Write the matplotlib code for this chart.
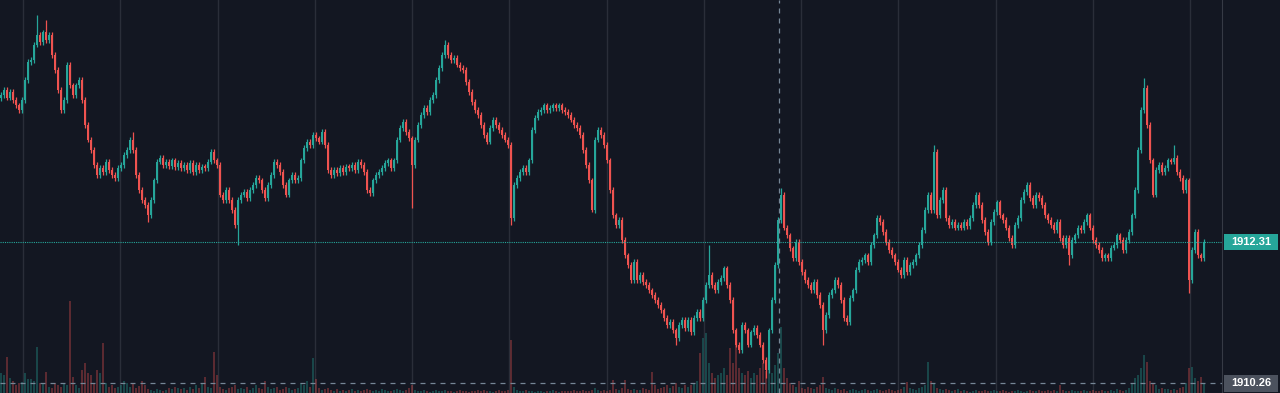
import numpy as np
import matplotlib.pyplot as plt
from matplotlib.patches import Rectangle

# close prices, one per candle (left to right)
closes = [
    1914.45, 1914.52, 1914.41, 1914.49, 1914.38, 1914.30, 1914.23, 1914.38, 1914.67, 1914.93,
    1914.96, 1915.18, 1915.32, 1915.22, 1915.36, 1915.25, 1915.32, 1915.03, 1914.81, 1914.52,
    1914.23, 1914.38, 1914.89, 1914.59, 1914.45, 1914.59, 1914.67, 1914.38, 1914.01, 1913.80,
    1913.65, 1913.43, 1913.29, 1913.39, 1913.33, 1913.48, 1913.36, 1913.29, 1913.24, 1913.39,
    1913.43, 1913.58, 1913.65, 1913.80, 1913.65, 1913.29, 1913.07, 1912.92, 1912.85, 1912.70,
    1912.92, 1913.21, 1913.48, 1913.53, 1913.43, 1913.48, 1913.42, 1913.50, 1913.40, 1913.46,
    1913.39, 1913.43, 1913.36, 1913.46, 1913.33, 1913.43, 1913.36, 1913.40, 1913.39, 1913.48,
    1913.62, 1913.50, 1913.43, 1913.00, 1912.92, 1913.07, 1912.92, 1912.78, 1912.56, 1912.92,
    1913.00, 1913.04, 1912.95, 1913.07, 1913.14, 1913.24, 1913.21, 1913.07, 1912.95, 1913.14,
    1913.29, 1913.48, 1913.43, 1913.33, 1913.14, 1913.00, 1913.21, 1913.29, 1913.21, 1913.24,
    1913.50, 1913.68, 1913.77, 1913.72, 1913.87, 1913.82, 1913.77, 1913.91, 1913.72, 1913.36,
    1913.29, 1913.36, 1913.31, 1913.39, 1913.33, 1913.40, 1913.39, 1913.43, 1913.36, 1913.48,
    1913.43, 1913.33, 1913.07, 1913.02, 1913.21, 1913.29, 1913.33, 1913.39, 1913.46, 1913.50,
    1913.39, 1913.50, 1913.80, 1913.97, 1914.06, 1913.91, 1913.82, 1913.43, 1913.80, 1914.01,
    1914.16, 1914.26, 1914.20, 1914.38, 1914.45, 1914.67, 1914.84, 1915.03, 1915.18, 1915.03,
    1914.96, 1914.99, 1914.89, 1914.84, 1914.81, 1914.64, 1914.49, 1914.35, 1914.23, 1914.16,
    1914.01, 1913.87, 1913.77, 1913.97, 1914.09, 1914.01, 1913.94, 1913.87, 1913.80, 1913.72,
    1912.66, 1913.14, 1913.24, 1913.33, 1913.39, 1913.33, 1913.50, 1913.94, 1914.12, 1914.20,
    1914.23, 1914.30, 1914.23, 1914.26, 1914.30, 1914.26, 1914.30, 1914.23, 1914.20, 1914.16,
    1914.09, 1914.01, 1913.97, 1913.87, 1913.65, 1913.43, 1913.21, 1912.78, 1913.80, 1913.94,
    1913.87, 1913.72, 1913.50, 1913.07, 1912.70, 1912.56, 1912.63, 1912.34, 1912.12, 1911.98,
    1911.76, 1912.02, 1911.76, 1911.83, 1911.73, 1911.69, 1911.61, 1911.54, 1911.47, 1911.40,
    1911.32, 1911.21, 1911.11, 1911.15, 1911.03, 1910.92, 1911.11, 1911.18, 1911.06, 1911.18,
    1911.00, 1911.21, 1911.30, 1911.21, 1911.47, 1911.69, 1911.83, 1911.69, 1911.61, 1911.73,
    1911.79, 1911.93, 1911.69, 1911.47, 1911.03, 1910.82, 1910.74, 1911.11, 1911.03, 1910.82,
    1911.00, 1911.06, 1910.96, 1910.82, 1910.60, 1910.45, 1911.03, 1911.47, 1911.98, 1912.63,
    1913.00, 1912.52, 1912.41, 1912.22, 1912.08, 1912.31, 1912.02, 1911.88, 1911.76, 1911.69,
    1911.61, 1911.73, 1911.54, 1911.40, 1911.03, 1911.25, 1911.54, 1911.61, 1911.76, 1911.69,
    1911.47, 1911.21, 1911.15, 1911.50, 1911.61, 1911.91, 1912.02, 1912.05, 1912.12, 1912.02,
    1912.27, 1912.41, 1912.66, 1912.60, 1912.46, 1912.31, 1912.20, 1912.12, 1912.02, 1911.91,
    1911.83, 1912.05, 1911.88, 1911.98, 1912.02, 1912.12, 1912.27, 1912.49, 1912.78, 1913.00,
    1912.78, 1913.62, 1912.70, 1912.92, 1913.07, 1912.66, 1912.56, 1912.60, 1912.52, 1912.56,
    1912.52, 1912.60, 1912.54, 1912.66, 1912.85, 1913.00, 1912.85, 1912.63, 1912.46, 1912.31,
    1912.60, 1912.75, 1912.89, 1912.70, 1912.63, 1912.52, 1912.37, 1912.27, 1912.56, 1912.66,
    1912.92, 1913.04, 1913.14, 1912.95, 1912.85, 1913.00, 1912.95, 1912.85, 1912.70, 1912.63,
    1912.56, 1912.49, 1912.60, 1912.37, 1912.27, 1912.37, 1912.12, 1912.34, 1912.41, 1912.52,
    1912.49, 1912.60, 1912.70, 1912.52, 1912.34, 1912.27, 1912.20, 1912.08, 1912.12, 1912.08,
    1912.23, 1912.27, 1912.41, 1912.34, 1912.20, 1912.34, 1912.46, 1912.70, 1913.07, 1913.65,
    1914.23, 1914.55, 1914.01, 1913.50, 1913.00, 1913.36, 1913.43, 1913.33, 1913.39, 1913.50,
    1913.48, 1913.53, 1913.33, 1913.24, 1913.07, 1913.21, 1911.76, 1912.20, 1912.46, 1912.12,
    1912.08, 1912.31,
]
first_open = 1914.40

# traded volume per candle
volumes = [
    20, 18, 36, 15, 12, 8, 10, 11, 20, 14,
    14, 12, 46, 10, 9, 21, 6, 5, 10, 8,
    6, 9, 8, 92, 16, 8, 5, 23, 30, 20,
    18, 10, 23, 20, 50, 10, 6, 8, 5, 6,
    8, 12, 10, 6, 9, 5, 7, 12, 8, 4,
    3, 2, 4, 3, 2, 3, 5, 4, 6, 5,
    4, 5, 3, 6, 4, 8, 5, 10, 16, 6,
    5, 41, 18, 6, 4, 3, 5, 6, 8, 4,
    5, 4, 6, 3, 5, 8, 5, 4, 12, 6,
    4, 5, 6, 3, 4, 6, 5, 3, 4, 5,
    10, 8, 12, 6, 35, 14, 5, 3, 4, 5,
    3, 2, 4, 2, 3, 2, 3, 4, 2, 3,
    2, 3, 4, 3, 2, 3, 2, 4, 3, 2,
    2, 3, 4, 3, 2, 3, 5, 8, 3, 2,
    2, 3, 2, 1, 2, 3, 2, 2, 3, 2,
    2, 1, 2, 3, 2, 2, 1, 2, 2, 3,
    2, 3, 2, 2, 1, 2, 3, 2, 2, 3,
    53, 6, 3, 2, 2, 3, 2, 2, 1, 2,
    2, 1, 2, 2, 3, 2, 1, 2, 2, 2,
    2, 3, 2, 2, 3, 2, 2, 3, 5, 3,
    2, 3, 2, 3, 13, 4, 3, 5, 13, 4,
    3, 4, 3, 3, 5, 4, 3, 21, 8, 4,
    5, 6, 8, 5, 7, 10, 6, 5, 8, 6,
    8, 10, 12, 40, 55, 60, 30, 20, 15, 18,
    20, 25, 18, 45, 30, 50, 25, 20, 18, 22,
    15, 20, 18, 25, 30, 22, 35, 20, 28, 40,
    66, 25, 15, 10, 8, 6, 12, 5, 4, 6,
    5, 4, 6, 8, 16, 5, 4, 3, 5, 4,
    3, 4, 2, 3, 4, 3, 2, 3, 4, 3,
    2, 3, 4, 3, 2, 3, 4, 3, 2, 3,
    4, 6, 11, 5, 4, 3, 5, 6, 8, 31,
    12, 10, 5, 4, 3, 4, 3, 2, 3, 4,
    2, 3, 2, 1, 2, 3, 2, 2, 3, 2,
    2, 3, 2, 2, 3, 2, 1, 2, 2, 3,
    2, 1, 2, 3, 2, 2, 3, 2, 2, 3,
    2, 3, 2, 8, 3, 2, 2, 3, 2, 2,
    2, 3, 2, 2, 3, 2, 2, 3, 2, 2,
    3, 2, 4, 3, 2, 3, 5, 10, 15, 18,
    25, 38, 31, 12, 10, 8, 4, 5, 4, 4,
    3, 4, 3, 5, 6, 10, 25, 26, 15, 12,
    16, 10,
]

# long wicks (candle index -> price)
wick_highs = {12: 1915.61, 15: 1915.54, 44: 1913.91, 148: 1915.25, 236: 1912.27,
              260: 1913.10, 311: 1913.72, 381: 1914.70, 391: 1913.72}
wick_lows = {49: 1912.60, 79: 1912.27, 137: 1912.81, 170: 1912.56, 197: 1912.75,
             225: 1910.81, 255: 1910.33, 274: 1910.82, 356: 1911.98, 396: 1911.57}
wick_pad = 0.04   # short wick drawn past the body when no long wick

last_price = 1912.31
cross_price = 1910.26
cross_bar = 259.33
price_range = (1910.118, 1915.83)

bg = "#131722"
up = "#26a69a"
down = "#ef5350"
grid_col = "#2a2e39"

closes = np.array(closes)
opens = np.array([first_open] + list(closes[:-1]))
idx = np.arange(len(closes))
highs = np.maximum(opens, closes) + wick_pad
lows = np.minimum(opens, closes) - wick_pad
for k, v in wick_highs.items():
    highs[k] = v
for k, v in wick_lows.items():
    lows[k] = v
colors = np.where(closes >= opens, up, down)

fig = plt.figure(figsize=(12.8, 3.93), dpi=100, facecolor=bg)
plot_w = 1222 / 1280
xlim = (-1 / 3, 407)

# volume in the back
axv = fig.add_axes([0, 0, plot_w, 1], zorder=1)
axv.set_facecolor(bg)
axv.bar(idx, volumes, width=0.85, color=colors, alpha=0.33, linewidth=0)
axv.set_ylim(0, 393)
axv.set_xlim(xlim)
for g in np.arange(7.33, 400, 32.42):
    axv.axvline(g, color=grid_col, lw=1, zorder=0)
axv.axis("off")

# candles
ax = fig.add_axes([0, 0, plot_w, 1], zorder=2)
ax.patch.set_alpha(0)
ax.vlines(idx, lows, highs, colors=colors, lw=0.9)
body = np.maximum(np.abs(closes - opens), 0.025)
ax.bar(idx, body, bottom=np.minimum(opens, closes), width=0.95, color=colors, linewidth=0)
ax.axhline(last_price, color=up, ls=(0, (1, 1)), lw=0.8)
ax.axhline(cross_price, color="#758696", ls=(0, (4, 4)), lw=0.9)
ax.axvline(cross_bar, color="#758696", ls=(0, (4, 4)), lw=0.9)
ax.set_xlim(xlim)
ax.set_ylim(price_range)
ax.axis("off")

# price scale on the right
axs = fig.add_axes([plot_w, 0, 1 - plot_w, 1], zorder=3)
axs.set_facecolor(bg)
axs.set_xlim(0, 1)
axs.set_ylim(price_range)
axs.set_xticks([])
axs.set_yticks([])
for s in ["top", "right", "bottom"]:
    axs.spines[s].set_visible(False)
axs.spines["left"].set_color("#363a45")
axs.add_patch(Rectangle((0.03, last_price - 0.118), 0.94, 0.236, color=up, lw=0))
axs.text(0.5, last_price, f"{last_price:.2f}", color="white", ha="center", va="center",
         fontsize=8, fontweight="bold", family="Liberation Sans")
axs.add_patch(Rectangle((0.03, cross_price - 0.125), 0.94, 0.25, color="#4c525e", lw=0))
axs.text(0.5, cross_price, f"{cross_price:.2f}", color="white", ha="center", va="center",
         fontsize=8, fontweight="bold", family="Liberation Sans")

fig.savefig("out.png", dpi=100, facecolor=bg)
